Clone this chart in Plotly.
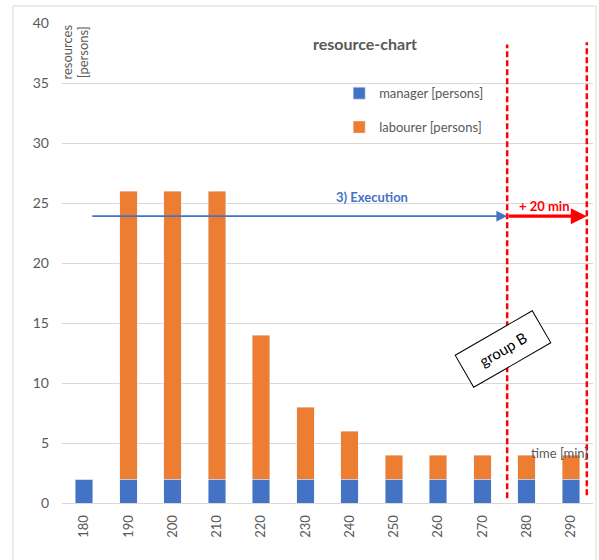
import plotly.graph_objects as go

# time slots [min] and staffing per slot
times = [180, 190, 200, 210, 220, 230, 240, 250, 260, 270, 280, 290]
manager = [2, 2, 2, 2, 2, 2, 2, 2, 2, 2, 2, 2]
labourer = [0, 24, 24, 24, 12, 6, 4, 2, 2, 2, 2, 2]
y_ticks = [0, 5, 10, 15, 20, 25, 30, 35, 40]

# phase markers
exec_start, exec_end, exec_level = 181.5, 275.6, 23.9
delay_end = 293.6

GREY = "#595959"
FONT = "Lato"

fig = go.Figure()
fig.add_trace(go.Bar(x=times, y=manager, name="manager [persons]",
                     marker_color="#4472C4", width=4, legendgroup="m"))
fig.add_trace(go.Bar(x=times, y=labourer, name="labourer [persons]",
                     marker_color="#ED7D31", width=4, legendgroup="l"))

shapes = [
    # outer chart frame
    dict(type="rect", xref="paper", yref="paper", x0=-0.0923, x1=1.0056,
         y0=-0.2, y1=1.0354, line=dict(color="#d9d9d9", width=1), layer="below"),
    # dashed boundaries of the delay window
    dict(type="line", xref="x", yref="y", x0=exec_end, x1=exec_end, y0=0.4, y1=38.2,
         line=dict(color="#FF0000", width=2.5, dash="6px,3px")),
    dict(type="line", xref="x", yref="y", x0=delay_end, x1=delay_end, y0=0.65, y1=38.4,
         line=dict(color="#FF0000", width=2.5, dash="6px,3px")),
]

annotations = [
    # execution arrow
    dict(x=exec_end, y=exec_level, ax=exec_start, ay=exec_level, xref="x", yref="y",
         axref="x", ayref="y", showarrow=True, arrowhead=2, arrowsize=1.2,
         arrowwidth=1.8, arrowcolor="#4472C4", text=""),
    dict(x=(exec_start + exec_end) / 2 + 16.5, y=25.5, xref="x", yref="y",
         text="<b>3) Execution</b>", showarrow=False,
         font=dict(family=FONT, size=13, color="#4472C4")),
    # delay arrow
    dict(x=delay_end, y=exec_level, ax=exec_end, ay=exec_level, xref="x", yref="y",
         axref="x", ayref="y", showarrow=True, arrowhead=2, arrowsize=1.0,
         arrowwidth=3.2, arrowcolor="#FF0000", text=""),
    dict(x=284.0, y=24.75, xref="x", yref="y", text="<b>+ 20 min</b>",
         showarrow=False, font=dict(family=FONT, size=13, color="#FF0000")),
    # group label
    dict(x=274.66, y=12.83, xref="x", yref="y", text="group B", showarrow=False,
         textangle=-30, font=dict(family=FONT, size=15, color="black"),
         bgcolor="white", bordercolor="black", borderwidth=1, borderpad=1,
         width=86, height=34),
    # axis titles
    dict(x=287.5, y=4.17, xref="x", yref="y", text="time [min]", showarrow=False,
         font=dict(family=FONT, size=13, color=GREY)),
    dict(x=0.0245, y=1.0, xref="paper", yref="paper", text="resources<br>[persons]",
         textangle=-90, xanchor="center", yanchor="top", showarrow=False,
         font=dict(family=FONT, size=13, color=GREY)),
]

fig.update_layout(
    width=599, height=560,
    margin=dict(l=62, r=6, t=23, b=57),
    paper_bgcolor="white", plot_bgcolor="white",
    barmode="stack",
    font=dict(family=FONT, color=GREY),
    title=dict(text="<b>resource-chart</b>", xref="container", yref="container",
               x=365 / 599, y=1 - 44 / 560, xanchor="center", yanchor="middle",
               font=dict(family=FONT, size=16, color=GREY)),
    legend=dict(x=0.522, y=0.885, xanchor="left", yanchor="top",
                traceorder="grouped", tracegroupgap=14, itemwidth=30,
                font=dict(family=FONT, size=13, color=GREY),
                bgcolor="rgba(0,0,0,0)"),
    xaxis=dict(range=[175, 295], tickvals=times, ticktext=[str(t) for t in times],
               tickangle=-90, showgrid=False, zeroline=False,
               showline=True, linecolor="#d9d9d9", linewidth=1,
               tickfont=dict(family=FONT, size=13, color=GREY), ticks="",
               ticklabelstandoff=6),
    yaxis=dict(range=[0, 40], tickvals=y_ticks, gridcolor="#d9d9d9", zeroline=False,
               tickfont=dict(family=FONT, size=14, color=GREY), ticks="",
               ticklabelstandoff=12),
    shapes=shapes,
    annotations=annotations,
)

fig.write_html("out.html")
